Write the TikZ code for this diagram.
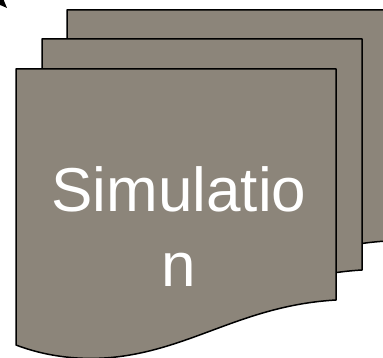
\documentclass[tikz,border=0pt]{standalone}
\usepackage{fontspec}
\setmainfont{Liberation Sans}
\usetikzlibrary{arrows.meta}
\definecolor{sheetgrey}{HTML}{8C857A}

\begin{document}
\begin{tikzpicture}[
  x=1pt, y=-1pt,
  sheet/.style={
    fill=sheetgrey,
    draw=black,
    line width=1.5pt,
    line join=round,
  },
  sheetlabel/.style={
    font=\fontsize{62}{75}\selectfont,
    text=white,
    align=center,
    inner sep=0pt,
  },
  pointer/.style={
    -{Triangle[length=14pt, width=11pt]},
    draw=black,
    line width=1.5pt,
  },
]
  \useasboundingbox (0,0) rectangle (383,358);

  % stacked sheets, back to front
  \foreach \dx/\dy in {51/-59, 26/-30, 0/0} {
    \path[sheet, shift={(\dx,\dy)}]
      (16,69) -- (336,69) -- (336,300)
      .. controls (250,305) and (200,343) .. (130,355)
      .. controls (90,362) and (50,358) .. (16,345) -- cycle;
  }

  \node[sheetlabel, anchor=base] (simlabel) at (179,287) {Simulatio\\n};

  % arrow coming in from the top left corner
  \coordinate (pointertail) at (-40,-40);
  \coordinate (pointertip) at (7,8);
  \draw[pointer] (pointertail) -- (pointertip);
\end{tikzpicture}
\end{document}
